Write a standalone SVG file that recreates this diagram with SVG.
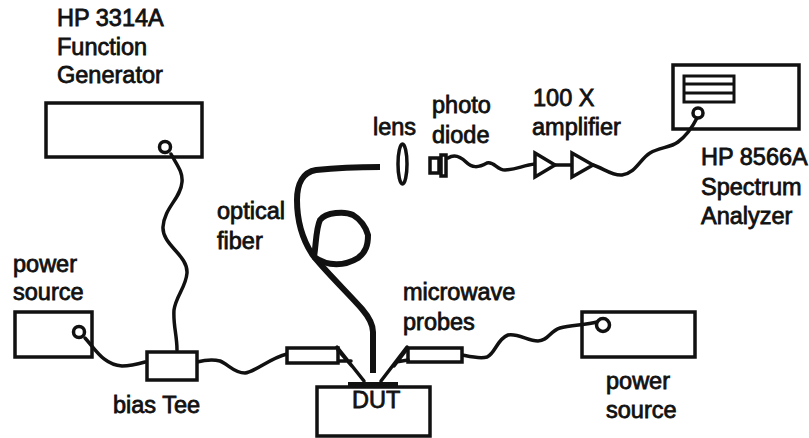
<svg xmlns="http://www.w3.org/2000/svg" width="809" height="438" viewBox="0 0 809 438">
<style>
text{font-family:"Liberation Sans",Arial,sans-serif;font-size:23.5px;fill:#111;stroke:#111;stroke-width:.8px}
.b{fill:#fff;stroke:#111;stroke-width:3.500}
.t{fill:none;stroke:#111;stroke-width:3}
.w{fill:none;stroke:#111;stroke-width:3.500;stroke-linecap:round;stroke-linejoin:round}
.f{fill:none;stroke:#111;stroke-width:6;stroke-linecap:butt;stroke-linejoin:round}
</style>
<rect width="809" height="438" fill="#fff"/>
<g id="hp3314a"><rect class="b" x="46" y="103" width="156" height="54"/><text x="57" y="26">HP 3314A</text><text x="57" y="55">Function</text><text x="57" y="83">Generator</text></g>
<g id="power-source-left"><rect class="b" x="15" y="312" width="77" height="45"/><text x="13" y="272">power</text><text x="13" y="300">source</text></g>
<g id="power-source-right"><rect class="b" x="582" y="312" width="113" height="45"/><text x="606" y="389">power</text><text x="606" y="418">source</text></g>
<g id="hp8566a"><rect class="b" x="673" y="65" width="126" height="64"/><rect class="t" x="684" y="76" width="50" height="26"/><path class="t" d="M684 84H734M684 93H734"/><text x="701" y="165">HP 8566A</text><text x="701" y="195">Spectrum</text><text x="701" y="224">Analyzer</text></g>
<g id="connectors">
<path class="w" d="M171 154C177 165 183 172 182 182C181 198 164 208 163 227C162 245 188 255 187 273C186 287 176 296 174 310C173 325 177 335 177 350"/>
<path class="w" d="M85 338C96 350 104 365 122 366C130 366 138 364 145 362"/>
<path class="w" d="M197 362C205 360 212 359 220 361C228 364 234 373 245 373C255 372 270 358 287 354"/>
<path class="w" d="M462 355C472 357 480 359 487 357C495 354 497 339 508 335C518 333 528 341 538 341C548 341 550 331 560 328C570 325 585 325 597 322"/>
<path class="w" d="M448 158C454 154 460 156 466 162C472 168 478 168 487 163C494 161 497 170 505 170C515 170 524 165 535 164"/>
<path class="w" d="M593 165C603 168 612 176 622 175C636 173 640 159 650 153C660 147 670 148 678 142C686 136 692 128 697 118"/>
<path class="w" d="M555 165H572"/>
<path class="f" d="M380 167C360 167 335 168 316 170C303 172 297 184 297 200C297 222 303 240 312 254C322 268 350 295 362 309C368 316 373 324 373 332V373"/>
<path class="f" d="M314 257C316 245 316 228 320 220C326 212 345 211 353 215C360 219 366 227 368 235C368 245 366 252 358 258C345 266 328 267 314 257"/>
</g>
<g id="hp3314a-port"><circle class="b" cx="165" cy="147" r="5.500"/></g>
<g id="power-left-port"><circle class="b" cx="79" cy="332" r="5.500"/></g>
<g id="power-right-port"><circle class="b" cx="603" cy="325" r="6.500"/></g>
<g id="hp8566a-port"><circle class="b" cx="698" cy="113" r="5"/></g>
<g id="bias-tee"><rect class="b" x="147" y="352" width="50" height="28"/><text x="113" y="413">bias Tee</text></g>
<g id="left-probe"><rect class="b" x="287" y="348" width="51" height="15"/><path class="w" d="M337 347L364 381M339 361L351 361M338 350L352 366"/></g>
<g id="right-probe"><rect class="b" x="408" y="348" width="54" height="14"/><path class="w" d="M407 347L381 381M408 360L396 362M407 349L394 366"/><text x="403" y="300">microwave</text><text x="403" y="330">probes</text></g>
<g id="dut"><rect class="b" x="317" y="387" width="113" height="49"/><rect x="348" y="382" width="50" height="6" fill="#111"/><text x="352" y="408">DUT</text></g>
<g id="fiber-label"><text x="217" y="219">optical</text><text x="217" y="249">fiber</text></g>
<g id="lens"><ellipse class="b" cx="402.500" cy="164" rx="4.500" ry="20"/><text x="373" y="135">lens</text></g>
<g id="photodiode"><rect class="b" x="430" y="158" width="9" height="15"/><rect class="b" x="441" y="155" width="5" height="21"/><text x="432" y="113">photo</text><text x="432" y="143">diode</text></g>
<g id="amp-1"><path class="b" d="M535 153L555 165L535 177Z"/></g>
<g id="amp-2"><path class="b" d="M572 153L593 165L572 177Z"/><text x="533" y="106">100 X</text><text x="532" y="135">amplifier</text></g>
</svg>
